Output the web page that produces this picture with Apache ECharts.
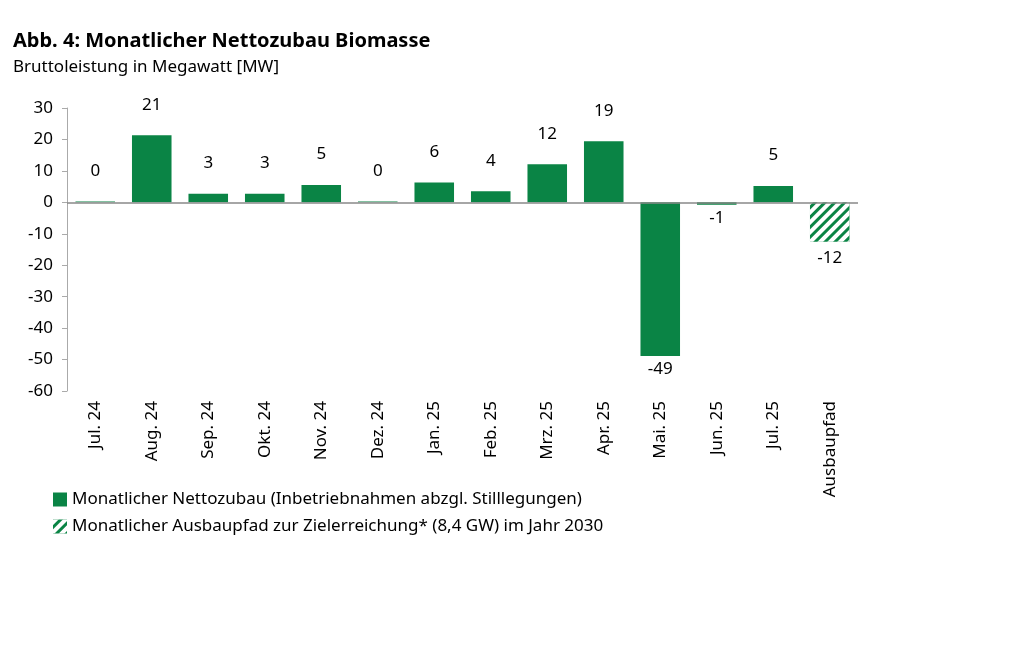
<!DOCTYPE html>
<html>
<head>
<meta charset="utf-8">
<script src="https://cdn.jsdelivr.net/npm/echarts@6/dist/echarts.min.js"></script>
<style>html,body{margin:0;background:#fff}#c{width:1024px;height:649px}</style>
</head>
<body>
<div id="c"></div>
<script>
const categories = ['Jul. 24', 'Aug. 24', 'Sep. 24', 'Okt. 24', 'Nov. 24', 'Dez. 24', 'Jan. 25', 'Feb. 25', 'Mrz. 25', 'Apr. 25', 'Mai. 25', 'Jun. 25', 'Jul. 25', 'Ausbaupfad'];
const nettozubau = [0.3, 21.3, 2.7, 2.7, 5.5, 0.3, 6.3, 3.5, 12.1, 19.4, -48.9, -0.8, 5.2, null];
const ausbaupfad = [null, null, null, null, null, null, null, null, null, null, null, null, null, -12.5];
const labels = ['0', '21', '3', '3', '5', '0', '6', '4', '12', '19', '-49', '-1', '5', '-12'];
const yTicks = [30, -60, 10];

const font = 'Noto Sans';
const green = '#0a8445';
const chart = echarts.init(document.getElementById('c'));

const lbl = (params) => labels[params.dataIndex];

chart.setOption({
  animation: false,
  textStyle: { fontFamily: font },
  title: {
    text: 'Abb. 4: Monatlicher Nettozubau Biomasse',
    subtext: 'Bruttoleistung in Megawatt [MW]',
    left: 8, top: 26, itemGap: 8,
    textStyle: { fontSize: 20, fontWeight: 'bold', color: '#000', fontFamily: font },
    subtextStyle: { fontSize: 17, color: '#000', fontFamily: font }
  },
  legend: {
    orient: 'vertical', left: 48, top: 486, itemGap: 10,
    itemWidth: 14, itemHeight: 14,
    textStyle: { fontSize: 17, color: '#000', fontFamily: font },
    data: [
      { name: 'Monatlicher Nettozubau (Inbetriebnahmen abzgl. Stilllegungen)', icon: 'rect' },
      { name: 'Monatlicher Ausbaupfad zur Zielerreichung* (8,4 GW) im Jahr 2030', icon: 'rect' }
    ]
  },
  grid: { left: 67, right: 166, top: 108, bottom: 258 },
  xAxis: {
    type: 'category', data: categories,
    axisLine: { show: false }, axisTick: { show: false },
    axisLabel: { rotate: 90, fontSize: 17, color: '#000', margin: 10 }
  },
  yAxis: {
    type: 'value', min: yTicks[1], max: yTicks[0], interval: yTicks[2],
    axisLine: { show: true, lineStyle: { color: '#aaa' } },
    axisTick: { show: true, length: 5, lineStyle: { color: '#aaa' } },
    splitLine: { show: false },
    axisLabel: { fontSize: 17, color: '#000', margin: 14 }
  },
  series: [
    {
      name: 'Monatlicher Nettozubau (Inbetriebnahmen abzgl. Stilllegungen)',
      type: 'bar', stack: 'a', data: nettozubau, barCategoryGap: '30%',
      itemStyle: { color: green },
      label: { show: true, position: 'top', distance: 22, formatter: lbl, fontSize: 17, color: '#000' },
      labelLayout: (p) => nettozubau[p.dataIndex] < 0 ? { dy: p.rect.height + 44 } : {},
      markLine: {
        symbol: 'none', silent: true, label: { show: false },
        lineStyle: { color: '#888', width: 1.5, type: 'solid' },
        data: [{ yAxis: 0 }]
      }
    },
    {
      name: 'Monatlicher Ausbaupfad zur Zielerreichung* (8,4 GW) im Jahr 2030',
      type: 'bar', stack: 'a', data: ausbaupfad, barCategoryGap: '30%',
      itemStyle: {
        color: green,
        decal: { symbol: 'rect', symbolSize: 1, dashArrayX: [1, 0], dashArrayY: [4, 3], rotation: -Math.PI / 4, color: '#fff' }
      },
      label: { show: true, position: 'bottom', distance: 8, formatter: lbl, fontSize: 17, color: '#000' }
    }
  ]
});
</script>
</body>
</html>
